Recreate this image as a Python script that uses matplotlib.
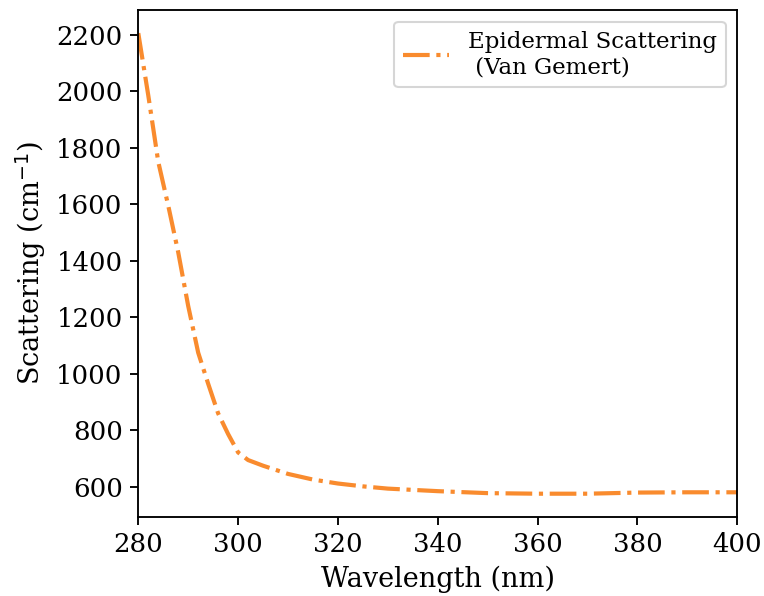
"""
Epidermal scattering coefficient vs wavelength (Van Gemert)
"""

import matplotlib
matplotlib.use('Agg')
import matplotlib.pyplot as plt
import numpy as np

#---------------------------------------------------------------------------------------------------
# Data
#---------------------------------------------------------------------------------------------------

wavelength = [280, 282, 284, 286, 288, 290, 292, 294, 296, 298, 300, 302, 305, 310, 315,
              320, 325, 330, 340, 350, 360, 370, 380, 390, 400]
scattering = [2205, 1985, 1750, 1595, 1430, 1240, 1075, 965, 860, 787, 722, 695, 675, 646, 626,
              612, 602, 594, 585, 578, 576, 576, 580, 581, 581]

label = 'Epidermal Scattering\n (Van Gemert)'

#---------------------------------------------------------------------------------------------------
# Plot
#---------------------------------------------------------------------------------------------------

plt.rcParams['font.family'] = 'DejaVu Serif'

dpi = 150
fig, ax = plt.subplots(figsize=(764/dpi, 596/dpi), dpi=dpi)
plt.subplots_adjust(left=0.181, right=0.965, top=0.983, bottom=0.133)

ax.plot(wavelength, scattering, '-.', color='#f98b2e', lw=2.0, label=label)
ax.set_xlim(280, 400)
ax.set_xlabel('Wavelength (nm)', size=13)
ax.set_ylabel('Scattering (cm$^{-1}$)', size=13)
ax.tick_params(labelsize=12.5, length=4, width=0.9)
for sp in ax.spines.values():
    sp.set_linewidth(0.9)
ax.legend(loc='upper right', fontsize=11)

plt.savefig('out.png', dpi=dpi)
